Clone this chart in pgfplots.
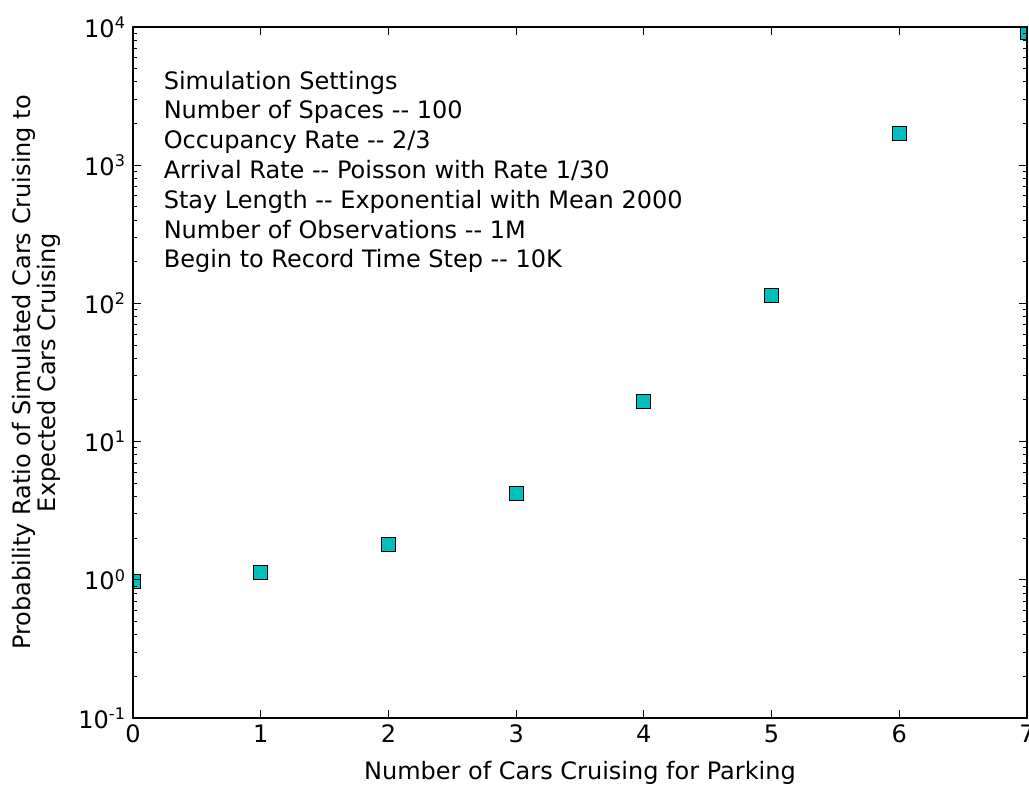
\documentclass[border=0pt]{standalone}
\usepackage{fontspec}
\setmainfont{DejaVu Sans}
\usepackage{pgfplots}
\pgfplotsset{compat=1.18}
\begin{document}
\begin{tikzpicture}
\definecolor{cyanmark}{RGB}{0,191,191}
\path[use as bounding box] (-66.5pt,-35pt) rectangle (448pt,359pt);
\begin{axis}[
scale only axis,
width=447pt, height=345.5pt,
ymode=log,
xmin=0, xmax=7,
ymin=0.1, ymax=10000,
xtick={0,1,2,3,4,5,6,7},
ytick={0.1,1,10,100,1000,10000},
yticklabels={10\textsuperscript{-1},10\textsuperscript{0},10\textsuperscript{1},10\textsuperscript{2},10\textsuperscript{3},10\textsuperscript{4}},
/pgf/number format/assume math mode=true,
tick align=inside,
tick pos=both,
major tick length=4pt,
minor tick length=2pt,
axis line style={line width=0.8pt},
every tick/.style={black, line width=0.5pt},
tick label style={font=\fontsize{12}{13}\selectfont},
label style={font=\fontsize{12}{12.5}\selectfont},
xlabel={Number of Cars Cruising for Parking},
ylabel={Probability Ratio of Simulated Cars Cruising to\\Expected Cars Cruising},
ylabel style={align=center, yshift=2pt},
xlabel style={yshift=-2pt},
clip marker paths=true,
axis on top,
]
\addplot [only marks, mark=square*, mark size=3.5pt,
  mark options={fill=cyanmark, draw=black, line width=0.4pt}]
coordinates {
(0,0.98) (1,1.14) (2,1.79) (3,4.25) (4,19.4) (5,115) (6,1710) (7,9200)
};
\node[anchor=north west, inner sep=0pt, align=left,
  font=\fontsize{12}{14.9}\selectfont]
  at (axis description cs:0.034,0.937)
  {Simulation Settings\\
   Number of Spaces -{}- 100\\
   Occupancy Rate -{}- 2/3\\
   Arrival Rate -{}- Poisson with Rate 1/30\\
   Stay Length -{}- Exponential with Mean 2000\\
   Number of Observations -{}- 1M\\
   Begin to Record Time Step -{}- 10K};
\end{axis}
\end{tikzpicture}
\end{document}
